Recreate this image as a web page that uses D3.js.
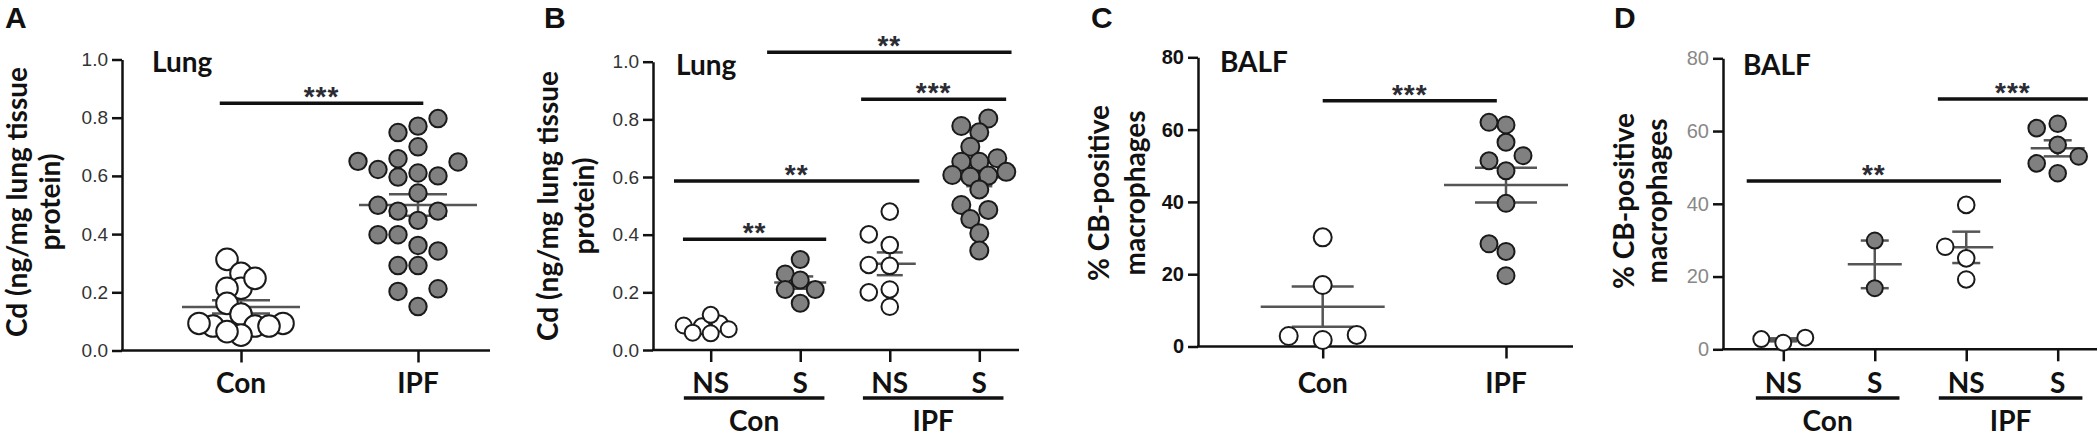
<!DOCTYPE html>
<html><head><meta charset="utf-8">
<script src="https://cdn.jsdelivr.net/npm/d3@7"></script>
<style>body{margin:0;background:#fff}svg{display:block}</style>
</head><body><svg id="c" width="2100" height="439"></svg>
<script>
// ---------- DATA ----------
const catsTwo = ["Con", "IPF"];
const catsFour = ["NS", "S", "NS", "S"];
const groupNames = ["Con", "IPF"];
const ticksLung = [0, 0.2, 0.4, 0.6, 0.8, 1.0];
const ticksBalf = [0, 20, 40, 60, 80];

// Panel A: Cd, lung
const aCon = [0.313, 0.265, 0.214, 0.248, 0.214, 0.162, 0.125, 0.084, 0.084, 0.093, 0.093, 0.053, 0.084, 0.065];
const aIPF = [0.797, 0.771, 0.749, 0.700, 0.650, 0.659, 0.648, 0.622, 0.600, 0.610, 0.596, 0.541, 0.499, 0.479, 0.479, 0.447, 0.398, 0.398, 0.361, 0.342, 0.292, 0.292, 0.212, 0.203, 0.151];
// Panel B: Cd, lung by smoking
const bConNS = [0.082, 0.092, 0.085, 0.122, 0.072, 0.058, 0.060];
const bConS = [0.314, 0.264, 0.243, 0.210, 0.210, 0.162];
const bIpfNS = [0.480, 0.401, 0.364, 0.295, 0.292, 0.210, 0.200, 0.150];
const bIpfS = [0.803, 0.777, 0.755, 0.705, 0.653, 0.665, 0.653, 0.607, 0.618, 0.605, 0.601, 0.557, 0.503, 0.486, 0.454, 0.405, 0.345];
// Panel C: % CB-positive macrophages, BALF
const cCon = [30.2, 17.0, 1.8, 3.2, 2.9];
const cIPF = [61.3, 62.0, 56.5, 52.8, 51.4, 48.6, 39.6, 28.4, 26.3, 19.6];
// Panel D: by smoking
const dConNS = [1.8, 3.2, 2.8];
const dConS = [29.9, 16.8];
const dIpfNS = [39.7, 28.2, 25.0, 19.2];
const dIpfS = [60.8, 62.0, 56.2, 53.0, 51.1, 48.4];

// significance annotations: [fromCat, toCat, level, label]
const sigA = [[-0.12, 1.03, 0.85, "***"]];
const sigB = [[0.63, 3.36, 1.033, "**"], [1.68, 3.30, 0.87, "***"], [-0.41, 2.33, 0.586, "**"], [-0.31, 1.29, 0.384, "**"]];
const sigC = [[0.0, 0.95, 68.0, "***"]];
const sigD = [[1.69, 3.33, 68.8, "***"], [-0.40, 2.38, 46.3, "**"]];

// ---------- DRAWING ----------
const svg = d3.select("#c");
const LABEL_FONT = "Lato, 'Open Sans', sans-serif";
const TICK_FONT = "'Liberation Sans', Arial, sans-serif";
const LBL = 28;

function swarm(values, y, cx, step, minDist) {
  const idx = values.map((v, i) => i).sort((a, b) => values[a] - values[b]);
  const placed = [], xs = new Array(values.length);
  for (const i of idx) {
    const yy = y(values[i]);
    for (let k = 0; k < 60; k++) {
      const off = k === 0 ? 0 : (k % 2 ? -1 : 1) * Math.ceil(k / 2) * step;
      const x = cx + off;
      if (placed.every(p => Math.hypot(p.x - x, p.y - yy) >= minDist)) {
        placed.push({x, y: yy}); xs[i] = x; break;
      }
    }
  }
  return xs;
}

function panel(cfg) {
  const g = svg.append("g");
  const y = d3.scaleLinear().domain(cfg.domain).range([cfg.y0, cfg.yTop]);
  const x = d3.scalePoint().domain(d3.range(cfg.cats.length)).range(cfg.xr);
  const step = cfg.cats.length > 1 ? (cfg.xr[1] - cfg.xr[0]) / (cfg.cats.length - 1) : 0;
  const xc = v => cfg.xr[0] + v * step;

  // panel letter
  g.append("text").attr("x", cfg.letterX).attr("y", 28)
    .attr("font-family", TICK_FONT).attr("font-weight", "bold").attr("font-size", 30)
    .attr("fill", "#111").text(cfg.letter);

  // y axis
  const ya = d3.axisLeft(y).tickValues(cfg.ticks).tickSize(10).tickSizeOuter(0).tickPadding(4)
    .tickFormat(cfg.fmt);
  const yg = g.append("g").attr("transform", `translate(${cfg.axisX},0)`).call(ya);
  yg.select(".domain").attr("stroke", "#111").attr("stroke-width", 2.5);
  yg.selectAll(".tick line").attr("stroke", "#111").attr("stroke-width", 2.5);
  yg.selectAll(".tick text").attr("font-family", TICK_FONT).attr("font-size", cfg.tickSize)
    .attr("font-weight", cfg.tickWeight).attr("fill", cfg.tickColor);

  // x axis line
  g.append("line").attr("x1", cfg.axisX - 1).attr("x2", cfg.xEnd).attr("y1", y(0)).attr("y2", y(0))
    .attr("stroke", "#111").attr("stroke-width", 2.5);
  const xa = d3.axisBottom(x).tickSize(12).tickFormat("");
  const xg = g.append("g").attr("transform", `translate(0,${y(0)})`).call(xa);
  xg.select(".domain").remove();
  xg.selectAll(".tick line").attr("stroke", "#111").attr("stroke-width", 2.5);

  // category labels
  g.selectAll(".cl").data(cfg.cats).join("text")
    .attr("x", (d, i) => x(i)).attr("y", cfg.catY)
    .attr("text-anchor", "middle").attr("font-family", LABEL_FONT).attr("font-weight", "bold")
    .attr("font-size", LBL).attr("fill", "#111").text(d => d);

  // group underline + labels
  if (cfg.groups) {
    cfg.groups.forEach((name, gi) => {
      const a = xc(gi * 2 - 0.3), b = xc(gi * 2 + 1.27);
      g.append("line").attr("x1", a).attr("x2", b).attr("y1", 398).attr("y2", 398)
        .attr("stroke", "#111").attr("stroke-width", 3.5);
      g.append("text").attr("x", (a + b) / 2).attr("y", 431).attr("text-anchor", "middle")
        .attr("font-family", LABEL_FONT).attr("font-weight", "bold").attr("font-size", LBL)
        .attr("fill", "#111").text(name);
    });
  }

  // y title
  cfg.title.forEach((t, i) => {
    g.append("text").attr("transform", `translate(${cfg.titleX[i]},${cfg.titleY}) rotate(-90)`)
      .attr("text-anchor", "middle").attr("font-family", LABEL_FONT).attr("font-weight", "bold")
      .attr("font-size", 28).attr("fill", "#111").text(t);
  });

  // tissue label
  g.append("text").attr("x", cfg.axisX + cfg.tagDx).attr("y", cfg.tagY)
    .attr("font-family", LABEL_FONT).attr("font-weight", "bold").attr("font-size", LBL)
    .attr("fill", "#111").text(cfg.tag);

  // significance bars
  cfg.sig.forEach(([f, t, lvl, lab]) => {
    const yy = y(lvl);
    g.append("line").attr("x1", xc(f)).attr("x2", xc(t)).attr("y1", yy).attr("y2", yy)
      .attr("stroke", "#111").attr("stroke-width", 3.5);
    g.append("text").attr("x", (xc(f) + xc(t)) / 2).attr("y", yy + 3).attr("text-anchor", "middle")
      .attr("font-family", TICK_FONT).attr("font-weight", "bold").attr("font-size", 28)
      .attr("letter-spacing", 1).attr("fill", "#2b2b33").text(lab);
  });

  // groups of points
  cfg.series.forEach((vals, i) => {
    const cx = x(i);
    const m = d3.mean(vals);
    const sem = d3.deviation(vals) / Math.sqrt(vals.length);
    const lg = g.append("g").attr("stroke", "#555").attr("stroke-width", 2.5);
    lg.append("line").attr("x1", cx - cfg.meanHalf).attr("x2", cx + cfg.meanHalf).attr("y1", y(m)).attr("y2", y(m));
    lg.append("line").attr("x1", cx).attr("x2", cx).attr("y1", y(m - sem)).attr("y2", y(m + sem));
    [m - sem, m + sem].forEach(v => lg.append("line").attr("x1", cx - cfg.capHalf).attr("x2", cx + cfg.capHalf)
      .attr("y1", y(v)).attr("y2", y(v)));
    const r = cfg.radius[i];
    const xs = swarm(vals, y, cx, cfg.swStep[i], cfg.swDist[i]);
    g.append("g").selectAll("circle").data(vals).join("circle")
      .attr("cx", (d, k) => xs[k]).attr("cy", d => y(d)).attr("r", r)
      .attr("fill", cfg.fills[i]).attr("stroke", "#1a1a1a").attr("stroke-width", 2);
  });
}

const GRAY = "#808080", OPEN = "#ffffff";

panel({
  letter: "A", letterX: 5, domain: [0, 1], y0: 350.5, yTop: 59.5, xr: [241, 418],
  axisX: 122, xEnd: 490, ticks: ticksLung, fmt: d3.format(".1f"), tickSize: 19, tickWeight: "normal", tickColor: "#333",
  cats: catsTwo, catY: 393, title: ["Cd (ng/mg lung tissue", "protein)"], titleX: [27, 60], titleY: 202,
  tag: "Lung", tagDx: 30, tagY: 72, sig: sigA,
  series: [aCon, aIPF], fills: [OPEN, GRAY], radius: [10.8, 8.7], swStep: [14, 20], swDist: [14, 18],
  meanHalf: 59, capHalf: 29
});
panel({
  letter: "B", letterX: 544, domain: [0, 1], y0: 350, yTop: 61.7, xr: [710.7, 979.3],
  axisX: 653, xEnd: 1019, ticks: ticksLung, fmt: d3.format(".1f"), tickSize: 19, tickWeight: "normal", tickColor: "#333",
  cats: catsFour, catY: 393, groups: groupNames, title: ["Cd (ng/mg lung tissue", "protein)"], titleX: [558, 594], titleY: 206,
  tag: "Lung", tagDx: 23, tagY: 75, sig: sigB,
  series: [bConNS, bConS, bIpfNS, bIpfS], fills: [OPEN, GRAY, OPEN, GRAY], radius: [8, 8.5, 8.3, 9],
  swStep: [9, 15, 21, 9], swDist: [10, 15, 17, 15], meanHalf: 26, capHalf: 13
});
panel({
  letter: "C", letterX: 1091, domain: [0, 80], y0: 346.5, yTop: 57.3, xr: [1322.7, 1506],
  axisX: 1198, xEnd: 1573, ticks: ticksBalf, fmt: d3.format("d"), tickSize: 20, tickWeight: "bold", tickColor: "#111",
  cats: catsTwo, catY: 393, title: ["% CB-positive", "macrophages"], titleX: [1109, 1145], titleY: 193,
  tag: "BALF", tagDx: 22, tagY: 72, sig: sigC,
  series: [cCon, cIPF], fills: [OPEN, GRAY], radius: [9, 8.5], swStep: [34, 17], swDist: [17, 17],
  meanHalf: 62, capHalf: 31
});
panel({
  letter: "D", letterX: 1614, domain: [0, 80], y0: 349.3, yTop: 58.3, xr: [1783.3, 2057.7],
  axisX: 1723, xEnd: 2097, ticks: ticksBalf, fmt: d3.format("d"), tickSize: 20, tickWeight: "normal", tickColor: "#888",
  cats: catsFour, catY: 393, groups: groupNames, title: ["% CB-positive", "macrophages"], titleX: [1634, 1667], titleY: 201,
  tag: "BALF", tagDx: 20, tagY: 75, sig: sigD,
  series: [dConNS, dConS, dIpfNS, dIpfS], fills: [OPEN, GRAY, OPEN, GRAY], radius: [8, 8, 8.3, 8.3],
  swStep: [22, 16, 21, 21], swDist: [16, 16, 17, 17], meanHalf: 27, capHalf: 14
});
</script></body></html>
